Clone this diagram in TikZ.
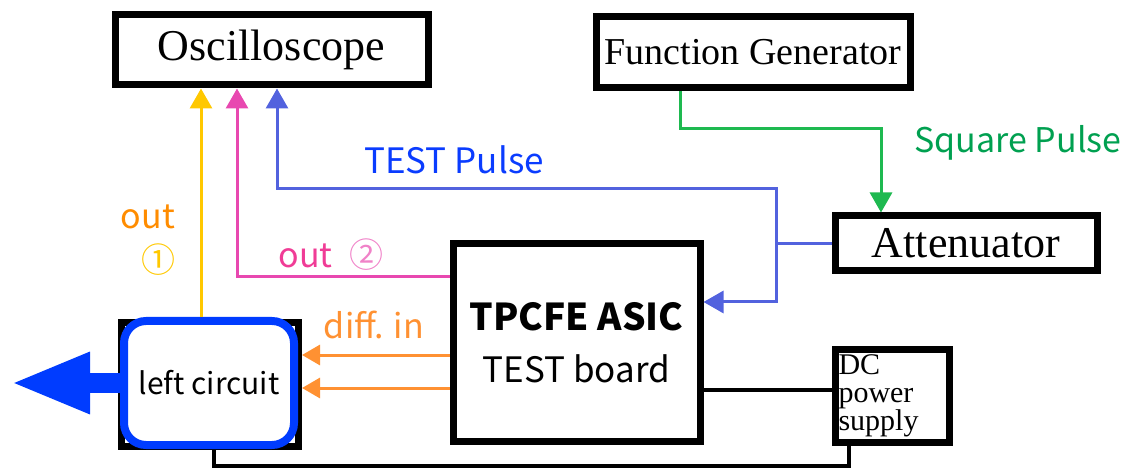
\documentclass[tikz,border=0pt]{standalone}
\usepackage{fontspec}
\setmainfont{Liberation Serif}
\newfontfamily\jpsans{Noto Sans CJK JP}
\usepackage{tikz}
\usetikzlibrary{arrows.meta}
\definecolor{oscyellow}{RGB}{255,200,0}
\definecolor{pinkc}{RGB}{232,72,176}
\definecolor{pinktxt}{RGB}{240,60,150}
\definecolor{pinklight}{RGB}{240,130,200}
\definecolor{bluec}{RGB}{82,98,222}
\definecolor{testblue}{RGB}{10,60,255}
\definecolor{greenc}{RGB}{30,185,80}
\definecolor{greentxt}{RGB}{0,160,80}
\definecolor{orangec}{RGB}{255,145,50}
\definecolor{orangetxt}{RGB}{255,140,0}
\definecolor{bigblue}{RGB}{0,60,255}

\begin{document}
\begin{tikzpicture}[x=1pt, y=-1pt,
  box/.style={draw, line width=7pt, inner sep=0pt},
  lbl/.style={font=\jpsans\fontsize{34}{40}\selectfont, inner sep=0pt},
  wire/.style={line width=3pt},
  sig/.style={-{Triangle[length=20pt,width=22pt]}},
  osig/.style={-{Triangle[length=18pt,width=20pt]}}]
  \useasboundingbox (0,0) rectangle (1130,470);

  % instruments
  \node[box, minimum width=313pt, minimum height=70pt, font=\fontsize{44}{50}\selectfont] (osc) at (271.5,50) {Oscilloscope};
  \node[box, minimum width=314pt, minimum height=71pt, font=\fontsize{38}{44}\selectfont] (fg) at (753,52) {Function Generator};
  \node[box, minimum width=262pt, minimum height=55pt, font=\fontsize{44}{50}\selectfont] (att) at (966,243.5) {Attenuator};
  \node[box, minimum width=247pt, minimum height=197pt, align=center, font=\jpsans\fontsize{35}{40}\selectfont] (tp) at (576.5,342.5) {{\bfseries\fontsize{37}{40}\selectfont TPCFE ASIC}\\[12pt]TEST board};
  \node[box, minimum width=114pt, minimum height=93pt, text width=108pt, inner xsep=3pt, align=left, font=\fontsize{30}{28}\selectfont] (dc) at (892.5,396) {DC\\power\\supply};
  \node[box, minimum width=177pt, minimum height=124pt] (lcbox) at (210,384.5) {};
  \node[draw=bigblue, fill=white, line width=8pt, rounded corners=22pt, minimum width=170pt, minimum height=124pt, font=\jpsans\fontsize{30}{36}\selectfont] (lc) at (209,383) {left circuit};

  % big output arrow
  \coordinate (far) at (10,383);
  \draw[bigblue, line width=20pt, -{Triangle[length=80pt,width=56pt]}] (lc.west) -- (far);

  % out 1
  \coordinate (yb) at ([xshift=-8pt]lc.north);
  \draw[wire, oscyellow, sig] (yb) -- (yb |- osc.south);

  % out 2
  \coordinate (pk) at ([yshift=65.5pt]tp.west);
  \draw[wire, pinkc, sig] (pk) -| ([xshift=-34.5pt]osc.south);

  % test pulse
  \coordinate (bj) at ([xshift=-55.5pt]att.west);
  \coordinate (tpin) at ([yshift=40.5pt]tp.east);
  \coordinate (bt) at ([yshift=54.5pt]bj);
  \draw[wire, bluec] (att.west) -- (bj);
  \draw[wire, bluec, sig] (bj) |- (tpin);
  \draw[wire, bluec, sig] (bj) -- (bt) -| ([xshift=5.5pt]osc.south);

  % square pulse
  \draw[wire, greenc, sig] ([xshift=-73pt]fg.south) -- ++(0,38) -| ([xshift=-85pt]att.north);

  % diff. in
  \coordinate (d1) at ([yshift=-12.5pt]tp.west);
  \coordinate (d2) at ([yshift=-45.5pt]tp.west);
  \draw[wire, orangec, osig] (d1) -- (d1 -| lcbox.east);
  \draw[wire, orangec, osig] (d2) -- (d2 -| lcbox.east);

  % power
  \coordinate (pw) at ([yshift=-47.5pt]tp.east);
  \draw[line width=3.5pt] (pw) -- (pw -| dc.west);
  \draw[line width=3.5pt] ([xshift=4pt]lcbox.south) -- ++(0,16) -| ([xshift=-43.5pt]dc.south);

  % labels
  \node[lbl, text=orangetxt] (o1) at (148,217) {out};
  \node[lbl, text=oscyellow] (c1) at (158,260) {①};
  \node[lbl, text=pinktxt] (o2) at (331,255) {out\enspace\textcolor{pinklight}{②}};
  \node[lbl, text=testblue, font=\jpsans\fontsize{35}{40}\selectfont] (tpl) at (454,160) {TEST Pulse};
  \node[lbl, text=greentxt] (sq) at (1018,143) {Square Pulse};
  \node[lbl, text=orangec] (di) at (374,325) {diff. in};
\end{tikzpicture}
\end{document}
